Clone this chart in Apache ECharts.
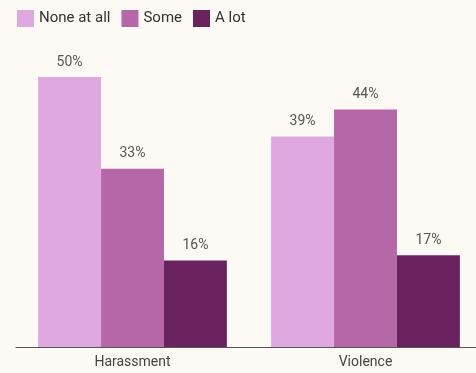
<!DOCTYPE html>
<html>
<head>
<meta charset="utf-8">
<style>
  html, body { margin: 0; padding: 0; background: #fdfaf5; }
  #chart { width: 476px; height: 373px; }
</style>
<script src="https://cdn.jsdelivr.net/npm/echarts@6/dist/echarts.min.js"></script>
</head>
<body>
<div id="chart"></div>
<script>
const categories = ['Harassment', 'Violence'];
const seriesNames = ['None at all', 'Some', 'A lot'];
const noneAtAll = [50, 39];
const some = [33, 44];
const aLot = [16, 17];
const colors = ['#e0a8e0', '#b667a8', '#6b2360'];

const chart = echarts.init(document.getElementById('chart'));
const dataSets = [noneAtAll, some, aLot];

chart.setOption({
  backgroundColor: '#fdfaf5',
  textStyle: { fontFamily: 'Roboto' },
  legend: {
    left: 12,
    top: 5,
    itemWidth: 17,
    itemHeight: 17,
    itemGap: 11,
    icon: 'rect',
    textStyle: { fontSize: 15, color: '#333', fontFamily: 'Roboto' },
    data: seriesNames
  },
  grid: {
    left: 16,
    width: 466,
    top: 77,
    bottom: 26,
    containLabel: false,
    outerBoundsMode: 'none'
  },
  xAxis: {
    type: 'category',
    data: categories,
    axisLine: { lineStyle: { color: '#555', width: 1 } },
    axisTick: { show: false },
    axisLabel: { fontSize: 14, color: '#444', margin: 8 }
  },
  yAxis: {
    type: 'value',
    min: 0,
    max: 50,
    show: false
  },
  series: seriesNames.map((name, i) => ({
    name: name,
    type: 'bar',
    data: dataSets[i],
    barGap: '0%',
    barCategoryGap: '19%',
    itemStyle: { color: colors[i] },
    label: {
      show: true,
      position: 'top',
      distance: 8,
      formatter: '{c}%',
      fontSize: 14,
      color: '#555'
    }
  }))
});
</script>
</body>
</html>
